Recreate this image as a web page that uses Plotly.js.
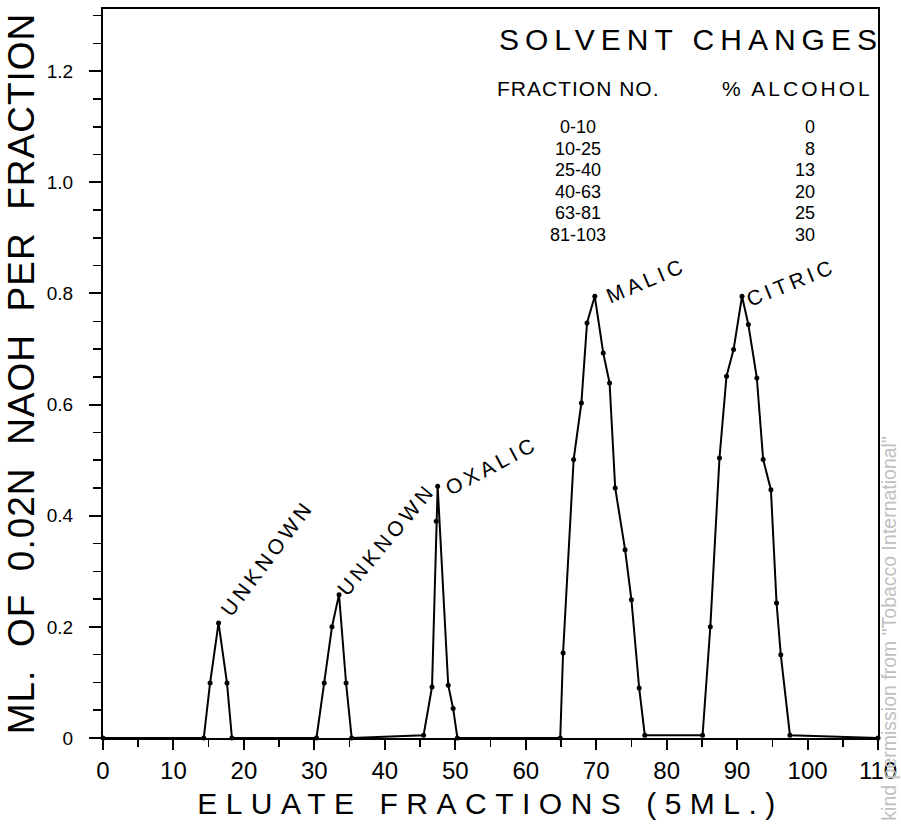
<!DOCTYPE html>
<html>
<head>
<meta charset="utf-8">
<script src="https://cdn.plot.ly/plotly-3.0.1.min.js"></script>
<style>html,body{margin:0;padding:0;background:#fff;}</style>
</head>
<body>
<div id="chart" style="width:901px;height:826px;"></div>
<script>
// Eluate fraction number (5 mL fractions)
const fraction = [0, 14.3, 15.2, 16.4, 17.6, 18.3,
  30.3, 31.4, 32.5, 33.5, 34.5, 35.3,
  45.5, 46.7, 47.3, 47.5, 49.0, 49.7, 50.3,
  64.9, 65.3, 66.8, 67.9, 68.7, 69.8, 71.0, 71.9, 72.7, 74.1, 75.0, 76.1, 76.9,
  85.1, 86.2, 87.5, 88.5, 89.5, 90.7, 91.6, 92.8, 93.7, 94.8, 95.6, 96.2, 97.5,
  110];
// mL of 0.02N NaOH per fraction
const naoh = [0, 0, 0.099, 0.207, 0.099, 0,
  0, 0.099, 0.200, 0.258, 0.099, 0,
  0.005, 0.092, 0.390, 0.453, 0.095, 0.053, 0,
  0, 0.153, 0.501, 0.603, 0.747, 0.795, 0.693, 0.639, 0.450, 0.339, 0.249, 0.090, 0.005,
  0.005, 0.200, 0.504, 0.651, 0.699, 0.795, 0.744, 0.648, 0.501, 0.447, 0.243, 0.150, 0.005,
  0];

const peakNames = ["UNKNOWN", "UNKNOWN", "OXALIC", "MALIC", "CITRIC"];
const peakLabelAngle = [-53, -50, -28, -23, -22];

const xTickVals = [0, 10, 20, 30, 40, 50, 60, 70, 80, 90, 100, 110];
const xTickText = ["0", "10", "20", "30", "40", "50", "60", "70", "80", "90", "100", "110"];
const yTickVals = [0, 0.2, 0.4, 0.6, 0.8, 1.0, 1.2];
const yTickText = ["0", "0.2", "0.4", "0.6", "0.8", "1.0", "1.2"];

const solventFractions = ["0-10", "10-25", "25-40", "40-63", "63-81", "81-103"];
const solventAlcohol = [0, 8, 13, 20, 25, 30];

const FONT = "Liberation Sans, Arial, sans-serif";

// locate peak tops (local maxima) for label placement
const peakIdx = [];
for (let i = 1; i < naoh.length - 1; i++) {
  if (naoh[i] > 0.1 && naoh[i] > naoh[i - 1] && naoh[i] > naoh[i + 1]) peakIdx.push(i);
}
const labelShift = [[49, 65], [47, 55], [54, 21], [51, 16], [49, 14]];

const annotations = peakIdx.map((idx, k) => ({
  x: fraction[idx], y: naoh[idx], xref: "x", yref: "y",
  text: '<span style="letter-spacing:4px">' + peakNames[k] + '</span>',
  showarrow: false, textangle: peakLabelAngle[k],
  xanchor: "center", yanchor: "middle",
  xshift: labelShift[k][0], yshift: labelShift[k][1],
  font: {family: FONT, size: 21, color: "#000"}
}));

annotations.push({
  xref: "paper", yref: "paper", x: 0.5084, y: 0.9575, xanchor: "left", yanchor: "middle",
  showarrow: false,
  text: '<span style="letter-spacing:6px">SOLVENT CHANGES</span>',
  font: {family: FONT, size: 30, color: "#000"}
});
annotations.push({
  xref: "paper", yref: "paper", x: 0.506, y: 0.8916, xanchor: "left", yanchor: "middle",
  showarrow: false, text: '<span style="letter-spacing:1px">FRACTION NO.</span>',
  font: {family: FONT, size: 21, color: "#000"}
});
annotations.push({
  xref: "paper", yref: "paper", x: 0.9955, y: 0.8916, xanchor: "right", yanchor: "middle",
  showarrow: false, text: '<span style="letter-spacing:3px">% ALCOHOL</span>',
  font: {family: FONT, size: 21, color: "#000"}
});
const ROW_STEP = 21.5;
solventFractions.forEach((f, i) => {
  annotations.push({
    xref: "paper", yref: "paper", x: 0.613, y: 0.8381, yshift: -i * ROW_STEP,
    xanchor: "center", yanchor: "middle", showarrow: false, text: f,
    font: {family: FONT, size: 18, color: "#000"}
  });
  annotations.push({
    xref: "paper", yref: "paper", x: 0.921, y: 0.8381, yshift: -i * ROW_STEP,
    xanchor: "right", yanchor: "middle", showarrow: false, text: String(solventAlcohol[i]),
    font: {family: FONT, size: 18, color: "#000"}
  });
});
annotations.push({
  xref: "paper", yref: "paper", x: 1.0142, y: 0.150, xanchor: "center", yanchor: "middle",
  showarrow: false, textangle: -90,
  text: 'kind permission from "Tobacco International"',
  font: {family: "Liberation Sans, Arial, sans-serif", size: 19.5, color: "#c0c0c0"}
});

const trace = {
  x: fraction, y: naoh, type: "scatter", mode: "lines+markers",
  line: {color: "#000", width: 2},
  marker: {color: "#000", size: 5},
  cliponaxis: false, hoverinfo: "x+y"
};

const layout = {
  width: 901, height: 826,
  margin: {l: 103, r: 23, t: 9, b: 88},
  paper_bgcolor: "#fff", plot_bgcolor: "#fff",
  showlegend: false,
  xaxis: {
    range: [0, 110], showgrid: false, zeroline: false,
    showline: true, linecolor: "#000", linewidth: 2, mirror: true,
    tickmode: "array", tickvals: xTickVals, ticktext: xTickText,
    ticks: "outside", ticklen: 10, tickwidth: 2, tickcolor: "#000",
    ticklabelstandoff: 0,
    minor: {ticks: "outside", dtick: 5, tick0: 0, ticklen: 7, tickwidth: 1.5, tickcolor: "#000"},
    tickfont: {family: FONT, size: 24, color: "#000"},
    title: {text: '<span style="letter-spacing:8.5px">ELUATE FRACTIONS (5ML.)</span>',
            font: {family: FONT, size: 30, color: "#000"}, standoff: 10}
  },
  yaxis: {
    range: [0, 1.312], showgrid: false, zeroline: false,
    showline: true, linecolor: "#000", linewidth: 2, mirror: true,
    tickmode: "array", tickvals: yTickVals, ticktext: yTickText,
    ticks: "outside", ticklen: 12, tickwidth: 2, tickcolor: "#000",
    ticklabelstandoff: 12,
    minor: {ticks: "outside", dtick: 0.05, tick0: 0, ticklen: 8, tickwidth: 1.5, tickcolor: "#000"},
    tickfont: {family: FONT, size: 19, color: "#000"},
    title: {text: '<span style="letter-spacing:1px">ML.  OF  0.02N  NAOH  PER  FRACTION</span>',
            font: {family: FONT, size: 37, color: "#000"}, standoff: 1}
  },
  annotations: annotations
};

Plotly.newPlot("chart", [trace], layout, {displayModeBar: false, staticPlot: true});
</script>
</body>
</html>
